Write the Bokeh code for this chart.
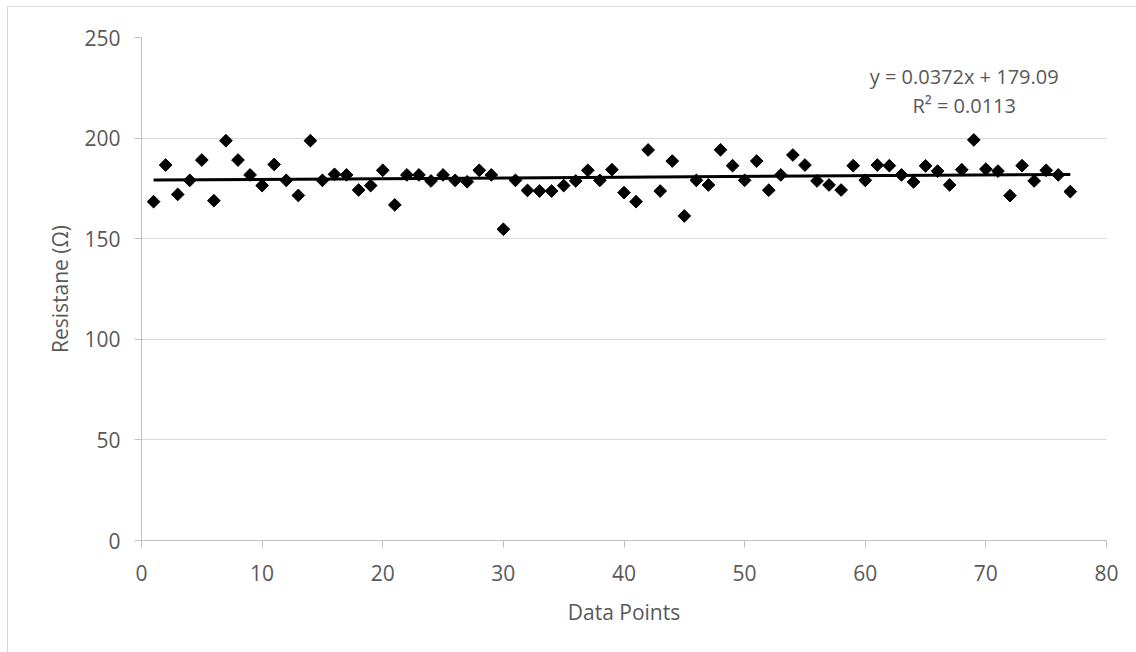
import numpy as np
from bokeh.plotting import figure
from bokeh.models import FixedTicker, Label, ColumnDataSource
from bokeh.embed import file_html
from bokeh.resources import INLINE

# ---- data ----
x_points = list(range(1, 78))
resistance = [
    168.4, 186.6, 172.0, 179.0, 189.1, 168.9, 198.7, 189.1, 181.7, 176.4,
    186.9, 179.0, 171.5, 198.7, 179.0, 182.0, 181.7, 174.2, 176.4, 184.0,
    166.8, 181.7, 181.7, 178.7, 181.7, 179.0, 178.3, 184.0, 181.7, 154.7,
    179.0, 174.0, 173.7, 173.7, 176.4, 178.7, 184.0, 179.0, 184.3, 172.9,
    168.4, 194.1, 173.7, 188.6, 161.3, 179.0, 176.7, 194.2, 186.3, 179.0,
    188.6, 174.1, 181.7, 191.6, 186.6, 178.7, 176.7, 174.2, 186.3, 179.0,
    186.6, 186.3, 181.7, 178.2, 186.2, 183.6, 176.7, 184.3, 199.1, 184.6,
    183.6, 171.4, 186.3, 178.7, 184.0, 181.7, 173.4,
]
slope = 0.0372
intercept = 179.09
r_squared = 0.0113
x_ticks = [0, 10, 20, 30, 40, 50, 60, 70, 80]
y_ticks = [0, 50, 100, 150, 200, 250]

FONT = "Open Sans"
TXT = "#595959"

p = figure(width=1129, height=646, output_backend="svg", toolbar_location=None,
           x_range=(0, 80), y_range=(0, 250),
           min_border_left=133, min_border_right=31, min_border_top=30, min_border_bottom=113)
p.margin = (6, 0, 0, 7)
p.styles = {"border-left": "1px solid #d9d9d9", "border-top": "1px solid #d9d9d9"}
p.outline_line_color = None
p.background_fill_color = "white"
p.border_fill_color = "white"

p.xgrid.grid_line_color = None
p.ygrid.grid_line_color = "#d9d9d9"
p.ygrid.grid_line_width = 1

p.xaxis.ticker = FixedTicker(ticks=x_ticks)
p.yaxis.ticker = FixedTicker(ticks=y_ticks)
for ax in (p.xaxis, p.yaxis):
    ax.axis_line_color = "#bfbfbf"
    ax.axis_line_width = 1
    ax.major_tick_line_color = "#bfbfbf"
    ax.major_tick_out = 7
    ax.major_tick_in = 0
    ax.minor_tick_line_color = None
    ax.major_label_text_font = FONT
    ax.major_label_text_font_size = "21px"
    ax.major_label_text_color = TXT
    ax.axis_label_text_font = FONT
    ax.axis_label_text_font_size = "21px"
    ax.axis_label_text_color = TXT
    ax.axis_label_text_font_style = "normal"

p.xaxis.axis_label = "Data Points"
p.yaxis.axis_label = "Resistane (Ω)"
p.xaxis.major_label_standoff = 17
p.yaxis.major_label_standoff = 14
p.xaxis.axis_label_standoff = 14
p.yaxis.axis_label_standoff = 7

src = ColumnDataSource(dict(x=x_points, y=resistance))
p.scatter("x", "y", source=src, marker="square", size=9, angle=np.pi / 4,
          fill_color="black", line_color="black")

tx = np.array([x_points[0], x_points[-1]], dtype=float)
p.line(tx, intercept + slope * tx, line_color="black", line_width=3)

p.add_layout(Label(x=68.2, y=230.5, text=f"y = {slope}x + {intercept}",
                   text_align="center", text_baseline="middle",
                   text_font=FONT, text_font_size="20px", text_color=TXT))
p.add_layout(Label(x=68.2, y=216.4, text=f"R² = {r_squared}",
                   text_align="center", text_baseline="middle",
                   text_font=FONT, text_font_size="20px", text_color=TXT))

open("out.html", "w").write(file_html(p, INLINE))
